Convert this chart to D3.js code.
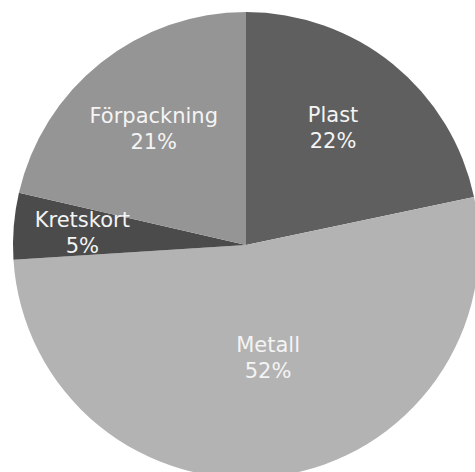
<!DOCTYPE html>
<html>
<head>
<meta charset="utf-8">
<script src="https://cdn.jsdelivr.net/npm/d3@7"></script>
<style>
  body { margin: 0; background: #fff; }
  svg { display: block; }
</style>
</head>
<body>
<div id="chart"></div>
<script>
// Data
var categories = ["Plast", "Metall", "Kretskort", "Förpackning"];
var values = [21.7, 52.3, 4.6, 21.4];
var colors = ["#5f5f5f", "#b3b3b3", "#4b4b4b", "#959595"];

// Layout
var w = 475, h = 472;
var cx = 246, cy = 245, radius = 233;
// label distance (fraction of radius) and angle nudge (degrees) per slice
var labelLayout = {
    "Plast": { r: 0.63, da: -2.7 },
    "Metall": { r: 0.49, da: -3.4 },
    "Kretskort": { r: 0.705, da: 0 },
    "Förpackning": { r: 0.64, da: 0.3 }
};

var total = d3.sum(values);
var data = categories.map(function(c, i) {
    return { name: c, value: values[i], color: colors[i] };
});

var svg = d3.select("#chart")
    .append("svg")
    .attr("width", w)
    .attr("height", h);

var g = svg.append("g")
    .attr("transform", "translate(" + cx + "," + cy + ")");

var pie = d3.pie()
    .sort(null)
    .value(function(d) { return d.value; });

var arc = d3.arc()
    .innerRadius(0)
    .outerRadius(radius);

var arcs = pie(data);

g.selectAll("path")
    .data(arcs)
    .enter()
    .append("path")
    .attr("d", arc)
    .attr("fill", function(d) { return d.data.color; });

// Labels: name + rounded percent
var labels = g.selectAll("text")
    .data(arcs)
    .enter()
    .append("text")
    .attr("transform", function(d) {
        var l = labelLayout[d.data.name];
        var a = (d.startAngle + d.endAngle) / 2 + l.da * Math.PI / 180;
        var r = radius * l.r;
        return "translate(" + (r * Math.sin(a)) + "," + (-r * Math.cos(a)) + ")";
    })
    .attr("text-anchor", "middle")
    .attr("fill", "#f4f4f4")
    .style("font-family", "'DejaVu Sans', Verdana, sans-serif")
    .style("font-size", "21px");

labels.append("tspan")
    .attr("x", 0)
    .attr("dy", "-0.22em")
    .text(function(d) { return d.data.name; });

labels.append("tspan")
    .attr("x", 0)
    .attr("dy", "1.22em")
    .text(function(d) { return Math.round(d.data.value / total * 100) + "%"; });
</script>
</body>
</html>
